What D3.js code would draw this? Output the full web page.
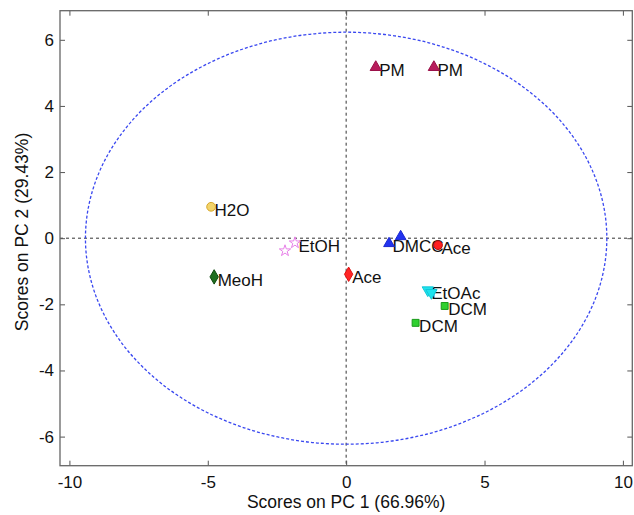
<!DOCTYPE html>
<html>
<head>
<meta charset="utf-8">
<script src="https://cdn.jsdelivr.net/npm/d3@7"></script>
<style>
  body { margin: 0; background: #fff; }
  text { font-family: "Liberation Sans", Arial, sans-serif; fill: #111; }
</style>
</head>
<body>
<div class="score_area"></div>
<script>
// scores
var solvent = ["H2O", "EtOH", "EtOH", "MeoH", "Ace", "DMC", "DMC", "Ace2", "EtOAc", "EtOAc", "DCM", "DCM", "PM", "PM"];
var labels  = ["H2O", "EtOH", "", "MeoH", "Ace", "DMCC", "", "Ace", "EtOAc", "", "DCM", "DCM", "PM", "PM"];
var pc1 = [-4.88, -1.85, -2.21, -4.77, 0.09, 1.55, 1.97, 3.32, 2.95, 3.08, 3.56, 2.51, 1.07, 3.17];
var pc2 = [0.95, -0.14, -0.38, -1.17, -1.09, -0.16, 0.05, -0.21, -1.57, -1.65, -2.05, -2.56, 5.17, 5.17];
var xTicks = [-10, -5, 0, 5, 10];
var yTicks = [-6, -4, -2, 0, 2, 4, 6];
var ellipseRadii = [9.42, 6.23];   // 95% confidence ellipse
var xTitle = "Scores on PC 1 (66.96%)";
var yTitle = "Scores on PC 2 (29.43%)";

var styles = {
  "H2O":   {shape: d3.symbolCircle,   size: 60, fill: "#f3d46a", stroke: "#d6a62a"},
  "EtOH":  {shape: d3.symbolStar,     size: 40, fill: "none",    stroke: "#e77fe8"},
  "MeoH":  {shape: d3.symbolDiamond,  size: 60, fill: "#1f6e1f", stroke: "#0d4a0d"},
  "Ace":   {shape: d3.symbolDiamond,  size: 60, fill: "#ff2626", stroke: "#e01010"},
  "DMC":   {shape: d3.symbolTriangle, size: 50, fill: "#2233f0", stroke: "#1a28d0"},
  "Ace2":  {shape: d3.symbolCircle,   size: 60, fill: "#ff2020", stroke: "#b01010"},
  "EtOAc": {shape: d3.symbolTriangle, size: 55, fill: "#1ee3ee", stroke: "#10c8d8", flip: true},
  "DCM":   {shape: d3.symbolSquare,   size: 48, fill: "#2fd02f", stroke: "#1a9a1a"},
  "PM":    {shape: d3.symbolTriangle, size: 55, fill: "#b81c5c", stroke: "#9a1048"}
};

var width = 634, height = 515;
var plot = {left: 60, right: 632.3, top: 10.7, bottom: 465.7};

var svg = d3.select(".score_area").append("svg")
  .attr("width", width)
  .attr("height", height);

var x = d3.scaleLinear().domain([-10.34, 10.34]).range([plot.left, plot.right]);
var y = d3.scaleLinear().domain([-6.88, 6.88]).range([plot.bottom, plot.top]);

var data = pc1.map(function (d, i) {
  return {x: d, y: pc2[i], group: solvent[i], label: labels[i]};
});

// plain hyphen for negatives, like the original figure
var plainFormat = function (d) { return String(d); };

// zero lines
svg.append("line")
  .attr("x1", x(0)).attr("x2", x(0))
  .attr("y1", plot.top).attr("y2", plot.bottom)
  .style("stroke", "#333").style("stroke-width", 1).style("stroke-dasharray", "3,3");
svg.append("line")
  .attr("x1", plot.left).attr("x2", plot.right)
  .attr("y1", y(0)).attr("y2", y(0))
  .style("stroke", "#333").style("stroke-width", 1).style("stroke-dasharray", "3,3");

// confidence ellipse
svg.append("ellipse")
  .attr("cx", x(0)).attr("cy", y(0))
  .attr("rx", x(ellipseRadii[0]) - x(0))
  .attr("ry", y(0) - y(ellipseRadii[1]))
  .style("fill", "none")
  .style("stroke", "#3a48f0")
  .style("stroke-width", 1.3)
  .style("stroke-dasharray", "3,2");

// axes, ticks pointing inward
function styleAxis(g) {
  g.select(".domain").remove();
  g.selectAll(".tick line").style("stroke", "#555");
  g.selectAll(".tick text").style("font-size", "17px").style("font-family", "Liberation Sans, Arial, sans-serif").attr("fill", "#111");
}

svg.append("g")
  .attr("transform", "translate(0," + plot.bottom + ")")
  .call(d3.axisBottom(x).tickValues(xTicks).tickSizeInner(-5).tickSizeOuter(0).tickPadding(10).tickFormat(plainFormat))
  .call(styleAxis);
svg.append("g")
  .attr("transform", "translate(0," + plot.top + ")")
  .call(d3.axisTop(x).tickValues(xTicks).tickSizeInner(-5).tickSizeOuter(0).tickFormat(""))
  .call(styleAxis);
svg.append("g")
  .attr("transform", "translate(" + plot.left + ",0)")
  .call(d3.axisLeft(y).tickValues(yTicks).tickSizeInner(-5).tickSizeOuter(0).tickPadding(6).tickFormat(plainFormat))
  .call(styleAxis);
svg.append("g")
  .attr("transform", "translate(" + plot.right + ",0)")
  .call(d3.axisRight(y).tickValues(yTicks).tickSizeInner(-5).tickSizeOuter(0).tickFormat(""))
  .call(styleAxis);

// frame
svg.append("rect")
  .attr("x", plot.left).attr("y", plot.top)
  .attr("width", plot.right - plot.left).attr("height", plot.bottom - plot.top)
  .style("fill", "none").style("stroke", "#666").style("stroke-width", 1.3);

// labels go under the markers
svg.append("g").selectAll("text")
  .data(data.filter(function (d) { return d.label; }))
  .enter().append("text")
  .attr("x", function (d) { return x(d.x) + 3.5; })
  .attr("y", function (d) { return y(d.y) + 9; })
  .style("font-size", "17px")
  .text(function (d) { return d.label; });

svg.append("g").selectAll("path")
  .data(data)
  .enter().append("path")
  .attr("transform", function (d) {
    var s = styles[d.group];
    return "translate(" + x(d.x) + "," + y(d.y) + ")" + (s.flip ? " rotate(180)" : "");
  })
  .attr("d", function (d) { return d3.symbol().type(styles[d.group].shape).size(styles[d.group].size)(); })
  .style("fill", function (d) { return styles[d.group].fill; })
  .style("stroke", function (d) { return styles[d.group].stroke; })
  .style("stroke-width", 1);

// axis titles
svg.append("text")
  .attr("x", (plot.left + plot.right) / 2)
  .attr("y", 508)
  .style("text-anchor", "middle")
  .style("font-size", "17.5px")
  .text(xTitle);
svg.append("text")
  .attr("transform", "translate(28,232) rotate(-90)")
  .style("text-anchor", "middle")
  .style("font-size", "17.5px")
  .text(yTitle);
</script>
</body>
</html>
